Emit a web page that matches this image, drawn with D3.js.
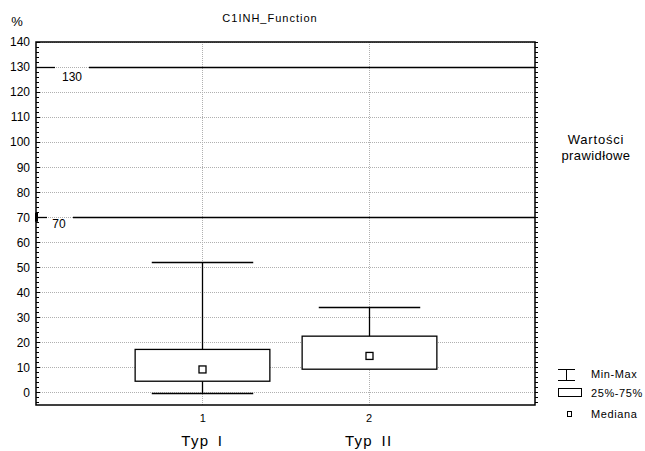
<!DOCTYPE html>
<html>
<head>
<meta charset="utf-8">
<script src="https://cdn.jsdelivr.net/npm/d3@7"></script>
<style>
body { margin: 0; background: #fff; }
text { font-family: "Liberation Sans", Arial, sans-serif; fill: #000; }
</style>
</head>
<body>
<svg id="chart" width="645" height="451"></svg>
<script>
// data
var categories = ["1", "2"];
var groupNames = ["Typ I", "Typ II"];
var mins = [-0.3, 9.3];
var maxs = [52, 34];
var q1 = [4.5, 9.3];
var q3 = [17.2, 22.5];
var medians = [9.2, 14.6];
var refLines = [130, 70];
var yTicks = d3.range(0, 141, 10);

var svg = d3.select("#chart");

var x = d3.scaleLinear().domain([0, 3]).range([36, 535]);
var y = d3.scaleLinear().domain([-5, 140]).range([405, 42]);

var g = svg.append("g");

// grid
g.selectAll(".hgrid").data(yTicks).enter().append("line")
    .attr("x1", x(0)).attr("x2", x(3))
    .attr("y1", function(d) { return Math.round(y(d)) + 0.5; })
    .attr("y2", function(d) { return Math.round(y(d)) + 0.5; })
    .style("stroke", "#b0b0b0").style("stroke-width", 1)
    .style("stroke-dasharray", "1,1");

g.selectAll(".vgrid").data(categories).enter().append("line")
    .attr("x1", function(d, i) { return Math.round(x(i + 1)) + 0.5; })
    .attr("x2", function(d, i) { return Math.round(x(i + 1)) + 0.5; })
    .attr("y1", y(140)).attr("y2", y(-5))
    .style("stroke", "#b0b0b0").style("stroke-width", 1)
    .style("stroke-dasharray", "1,1");

// reference lines with labels
var refGap = [[55, 89], [47, 73]];
var refDy = [13, 10.5];
refLines.forEach(function(v, i) {
    var yy = Math.round(y(v)) + 0.5;
    g.append("line").attr("x1", x(0)).attr("x2", refGap[i][0])
        .attr("y1", yy).attr("y2", yy)
        .style("stroke", "#000").style("stroke-width", 1.3);
    g.append("line").attr("x1", refGap[i][1]).attr("x2", x(3))
        .attr("y1", yy).attr("y2", yy)
        .style("stroke", "#000").style("stroke-width", 1.3);
    g.append("text").attr("x", (refGap[i][0] + refGap[i][1]) / 2 - (i === 1 ? 1 : 0))
        .attr("y", yy + refDy[i]).attr("text-anchor", "middle")
        .style("font-size", "12px").text(v);
});
g.append("rect").attr("x", x(0) - 1).attr("y", y(70) - 4.5)
    .attr("width", 3).attr("height", 9).style("fill", "#000");

// boxes
var boxW = 0.81, capW = 0.61;
categories.forEach(function(c, i) {
    var cx = Math.round(x(i + 1)) + 0.5;
    var bw = x(boxW) - x(0), cw = x(capW) - x(0);
    g.append("line").attr("x1", cx).attr("x2", cx)
        .attr("y1", y(maxs[i])).attr("y2", y(q3[i]))
        .style("stroke", "#000").style("stroke-width", 1.3);
    g.append("line").attr("x1", cx - cw / 2).attr("x2", cx + cw / 2)
        .attr("y1", Math.round(y(maxs[i])) + 0.5).attr("y2", Math.round(y(maxs[i])) + 0.5)
        .style("stroke", "#000").style("stroke-width", 1.3);
    if (mins[i] < q1[i]) {
        g.append("line").attr("x1", cx).attr("x2", cx)
            .attr("y1", y(q1[i])).attr("y2", y(mins[i]))
            .style("stroke", "#000").style("stroke-width", 1.3);
        g.append("line").attr("x1", cx - cw / 2).attr("x2", cx + cw / 2)
            .attr("y1", Math.round(y(mins[i])) + 0.5).attr("y2", Math.round(y(mins[i])) + 0.5)
            .style("stroke", "#000").style("stroke-width", 1.3);
    }
    g.append("rect").attr("x", cx - bw / 2).attr("y", y(q3[i]))
        .attr("width", bw).attr("height", y(q1[i]) - y(q3[i]))
        .style("fill", "#fff").style("stroke", "#000").style("stroke-width", 1.3);
    g.append("rect").attr("x", cx - 3.5).attr("y", y(medians[i]) - 3.5)
        .attr("width", 7).attr("height", 7)
        .style("fill", "#fff").style("stroke", "#000").style("stroke-width", 1.3);
});

// frame
svg.append("rect").attr("x", x(0)).attr("y", y(140))
    .attr("width", x(3) - x(0)).attr("height", y(-5) - y(140))
    .style("fill", "none").style("stroke", "#000").style("stroke-width", 1.5);

// minor ticks
var minor = d3.range(-4, 141, 2);
svg.selectAll(".lt").data(minor).enter().append("line")
    .attr("x1", x(0)).attr("x2", function(d) { return x(0) + (d % 10 === 0 ? 4 : 3); })
    .attr("y1", function(d) { return Math.round(y(d)) + 0.5; })
    .attr("y2", function(d) { return Math.round(y(d)) + 0.5; })
    .style("stroke", "#000").style("stroke-width", 1);
svg.selectAll(".rt").data(minor).enter().append("line")
    .attr("x1", x(3)).attr("x2", x(3) + 3)
    .attr("y1", function(d) { return Math.round(y(d)) + 0.5; })
    .attr("y2", function(d) { return Math.round(y(d)) + 0.5; })
    .style("stroke", "#000").style("stroke-width", 1);

// y axis labels
var yAxis = d3.axisLeft(y).tickValues(yTicks).tickSize(0).tickPadding(6);
var ya = svg.append("g").attr("transform", "translate(" + x(0) + ",0)").call(yAxis);
ya.select(".domain").remove();
ya.selectAll("text").style("font-size", "12px")
    .style("font-family", "Liberation Sans, Arial, sans-serif").attr("fill", "#000");

// x axis labels
var xAxis = d3.axisBottom(x).tickValues([1, 2]).tickFormat(function(d) { return categories[d - 1]; })
    .tickSize(0).tickPadding(9);
var xa = svg.append("g").attr("transform", "translate(0," + y(-5) + ")").call(xAxis);
xa.select(".domain").remove();
xa.selectAll("text").style("font-size", "11px")
    .style("font-family", "Liberation Sans, Arial, sans-serif").attr("fill", "#000");

svg.selectAll(".grp").data(groupNames).enter().append("text")
    .attr("x", function(d, i) { return x(i + 1); }).attr("y", 446)
    .attr("text-anchor", "middle").style("font-size", "15px")
    .style("letter-spacing", "1.3px").style("word-spacing", "3px")
    .text(function(d) { return d; });

// titles
svg.append("text").attr("x", 270).attr("y", 22).attr("text-anchor", "middle")
    .style("font-size", "11px").style("letter-spacing", "1px").text("C1INH_Function");
svg.append("text").attr("x", 17).attr("y", 26).attr("text-anchor", "middle")
    .style("font-size", "13px").text("%");
svg.append("text").attr("x", 596).attr("y", 144).attr("text-anchor", "middle")
    .style("font-size", "13px").style("letter-spacing", "0.8px").text("Wartości");
svg.append("text").attr("x", 596).attr("y", 160).attr("text-anchor", "middle")
    .style("font-size", "13px").style("letter-spacing", "0.4px").text("prawidłowe");

// legend
var lg = svg.append("g");
lg.append("line").attr("x1", 558).attr("x2", 575).attr("y1", 369.5).attr("y2", 369.5).style("stroke", "#000");
lg.append("line").attr("x1", 558).attr("x2", 575).attr("y1", 380.5).attr("y2", 380.5).style("stroke", "#000");
lg.append("line").attr("x1", 566.5).attr("x2", 566.5).attr("y1", 369.5).attr("y2", 380.5).style("stroke", "#000");
lg.append("rect").attr("x", 558.5).attr("y", 388.5).attr("width", 23).attr("height", 8)
    .style("fill", "#fff").style("stroke", "#000");
lg.append("rect").attr("x", 567.5).attr("y", 411.5).attr("width", 4).attr("height", 5)
    .style("fill", "#fff").style("stroke", "#000");
var legendLabels = ["Min-Max", "25%-75%", "Mediana"];
var legendY = [378, 397, 418];
lg.selectAll(".lt").data(legendLabels).enter().append("text")
    .attr("x", 591).attr("y", function(d, i) { return legendY[i]; })
    .style("font-size", "11px").style("letter-spacing", "0.6px")
    .text(function(d) { return d; });
</script>
</body>
</html>
